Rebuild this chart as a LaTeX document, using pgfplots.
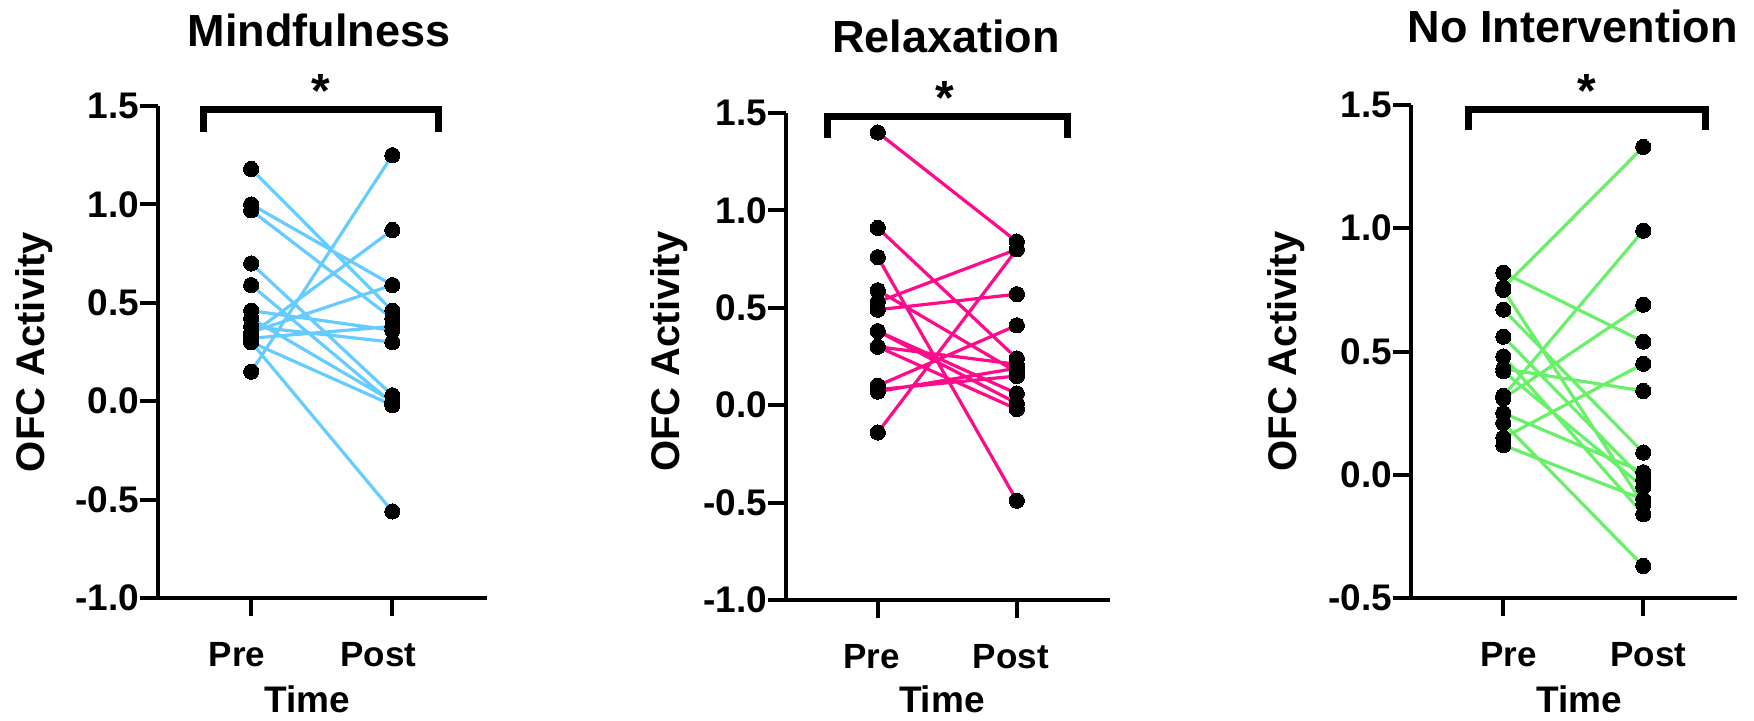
\documentclass[border=0pt]{standalone}
\usepackage{fontspec}
\setmainfont{Liberation Sans}
\usepackage{pgfplots}
\usepackage{pgfplotstable}
\pgfplotsset{compat=1.18}
\definecolor{cblue}{RGB}{102,204,255}
\definecolor{cpink}{RGB}{255,10,138}
\definecolor{cgreen}{RGB}{105,240,105}

% time (0 = Pre, 1 = Post), OFC activity; one subject per pair, nan = break
\pgfplotstableread{
t v
0 1.18
1 0.46
0 nan
0 1.00
1 0.59
0 nan
0 0.97
1 0.42
0 nan
0 0.70
1 0.03
0 nan
0 0.59
1 -0.01
0 nan
0 0.46
1 0.36
0 nan
0 0.42
1 0.00
0 nan
0 0.38
1 0.30
0 nan
0 0.35
1 0.59
0 nan
0 0.34
1 0.87
0 nan
0 0.32
1 0.38
0 nan
0 0.30
1 -0.56
0 nan
0 0.30
1 -0.02
0 nan
0 0.15
1 1.25
}\mindfuldata

\pgfplotstableread{
t v
0 1.40
1 0.84
0 nan
0 0.91
1 0.24
0 nan
0 0.76
1 -0.49
0 nan
0 0.59
1 0.17
0 nan
0 0.53
1 0.80
0 nan
0 0.49
1 0.57
0 nan
0 0.38
1 0.06
0 nan
0 0.38
1 0.01
0 nan
0 0.30
1 0.21
0 nan
0 0.30
1 -0.02
0 nan
0 0.10
1 0.41
0 nan
0 0.08
1 0.15
0 nan
0 0.07
1 0.19
0 nan
0 -0.14
1 0.80
}\relaxdata

\pgfplotstableread{
t v
0 0.82
1 0.54
0 nan
0 0.76
1 1.33
0 nan
0 0.75
1 -0.12
0 nan
0 0.67
1 0.09
0 nan
0 0.56
1 -0.02
0 nan
0 0.48
1 -0.16
0 nan
0 0.43
1 0.34
0 nan
0 0.42
1 -0.05
0 nan
0 0.32
1 0.99
0 nan
0 0.31
1 0.69
0 nan
0 0.25
1 0.01
0 nan
0 0.21
1 -0.37
0 nan
0 0.15
1 0.45
0 nan
0 0.12
1 -0.10
}\nointervdata

\pgfplotsset{
  pp/.style={
    scale only axis,
    anchor=south west,
    axis x line*=bottom, axis y line*=left,
    axis line style={line width=1pt, -},
    every tick/.style={black, line width=1pt},
    tick align=outside,
    major tick length=4.5pt,
    xmin=-0.66, xmax=1.67,
    xtick={0,1}, xticklabels={Pre,Post},
    clip=false,
    unbounded coords=jump,
    yticklabel style={font=\bfseries\fontsize{9.25}{11}\selectfont, anchor=east, inner sep=0pt},
    xticklabel style={font=\bfseries\fontsize{8.75}{10}\selectfont, anchor=north, inner sep=0pt, yshift=-6.5pt},
    xlabel={Time}, ylabel={OFC Activity},
    xlabel style={font=\bfseries\fontsize{9.25}{11}\selectfont, anchor=base},
    ylabel style={font=\bfseries\fontsize{10}{12}\selectfont, anchor=center},
    every axis title/.style={font=\bfseries\fontsize{11.25}{13}\selectfont, anchor=base, inner sep=0pt},
  },
  pairs/.style={line width=0.8pt, mark=*, mark size=1.9pt,
    mark options={draw=black, fill=black, line width=0pt}},
}

\begin{document}
\begin{tikzpicture}
\path[use as bounding box] (0,0) rectangle (438.5pt,180pt);

% ---------- Mindfulness ----------
\begin{axis}[pp,
  at={(39.5pt,30.5pt)}, width=82.25pt, height=123pt,
  ymin=-1, ymax=1.5, ytick={-1,-0.5,0,0.5,1,1.5},
  yticklabels={-1.0,-0.5,0.0,0.5,1.0,1.5},
  xticklabel style={xshift=-3.5pt},
  xlabel style={at={(axis description cs:0.453,-0.2337)}},
  ylabel style={at={(axis description cs:-0.377,0.5)}},
  title={Mindfulness},
  title style={at={(axis description cs:0.489,1.12)}},
]
\addplot[pairs, cblue] table[x=t, y=v] {\mindfuldata};
\draw[line width=1.75pt] (axis cs:-0.337,1.368) -- (axis cs:-0.337,1.482) -- (axis cs:1.33,1.482) -- (axis cs:1.33,1.368);
\node[font=\bfseries\fontsize{12}{12}\selectfont, anchor=base, inner sep=0pt] at (axis cs:0.49,1.49) {*};
\end{axis}

% ---------- Relaxation ----------
\begin{axis}[pp,
  at={(196.5pt,30pt)}, width=81pt, height=121.75pt,
  ymin=-1, ymax=1.5, ytick={-1,-0.5,0,0.5,1,1.5},
  yticklabels={-1.0,-0.5,0.0,0.5,1.0,1.5},
  xticklabel style={xshift=-1.5pt},
  xlabel style={at={(axis description cs:0.481,-0.232)}},
  ylabel style={at={(axis description cs:-0.361,0.51)}},
  title={Relaxation},
  title style={at={(axis description cs:0.494,1.125)}},
]
\addplot[pairs, cpink] table[x=t, y=v] {\relaxdata};
\draw[line width=1.75pt] (axis cs:-0.36,1.372) -- (axis cs:-0.36,1.482) -- (axis cs:1.367,1.482) -- (axis cs:1.367,1.372);
\node[font=\bfseries\fontsize{12}{12}\selectfont, anchor=base, inner sep=0pt] at (axis cs:0.48,1.49) {*};
\end{axis}

% ---------- No Intervention ----------
\begin{axis}[pp,
  at={(352.75pt,30.5pt)}, width=81.5pt, height=123.25pt,
  ymin=-0.5, ymax=1.5, ytick={-0.5,0,0.5,1,1.5},
  yticklabels={-0.5,0.0,0.5,1.0,1.5},
  xticklabel style={xshift=1.25pt},
  xlabel style={at={(axis description cs:0.515,-0.233)}},
  ylabel style={at={(axis description cs:-0.383,0.5)}},
  title={No Intervention},
  title style={at={(axis description cs:0.496,1.126)}},
]
\addplot[pairs, cgreen] table[x=t, y=v] {\nointervdata};
\draw[line width=1.75pt] (axis cs:-0.25,1.399) -- (axis cs:-0.25,1.482) -- (axis cs:1.443,1.482) -- (axis cs:1.443,1.399);
\node[font=\bfseries\fontsize{12}{12}\selectfont, anchor=base, inner sep=0pt] at (axis cs:0.6,1.49) {*};
\end{axis}
\end{tikzpicture}
\end{document}
